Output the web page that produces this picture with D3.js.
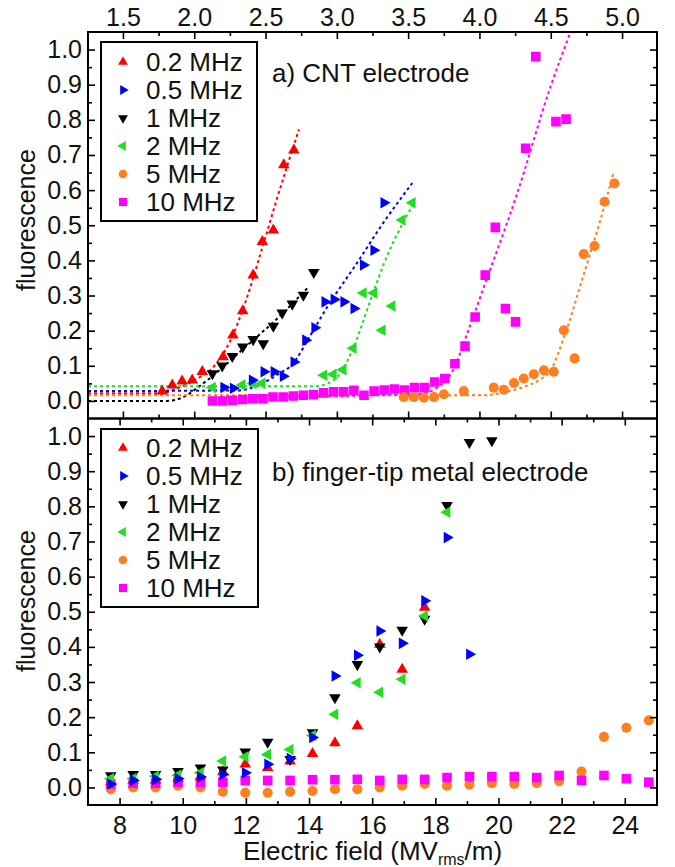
<!DOCTYPE html>
<html>
<head>
<meta charset="utf-8">
<script src="https://cdn.jsdelivr.net/npm/d3@7"></script>
<style>
  body { margin: 0; background: #fff; }
  svg { display: block; font-family: "Liberation Sans", Arial, sans-serif; }
</style>
</head>
<body>
<div id="chart"></div>
<script>
// ---------- data ----------
const freqLabels = ["0.2 MHz", "0.5 MHz", "1 MHz", "2 MHz", "5 MHz", "10 MHz"];

// panel a) CNT electrode : measured points
const a02E = [9.35, 9.67, 9.98, 10.30, 10.62, 11.28, 11.59, 11.90, 12.23, 12.52, 12.87, 13.20, 13.52];
const a02F = [0.028, 0.045, 0.056, 0.059, 0.083, 0.125, 0.187, 0.256, 0.358, 0.453, 0.486, 0.672, 0.714];
const a05E = [11.30, 11.60, 12.20, 12.57, 12.89, 13.18, 13.52, 13.89, 14.18, 14.50, 14.79, 15.10, 15.42, 15.72, 16.05, 16.37];
const a05F = [0.038, 0.036, 0.059, 0.083, 0.083, 0.070, 0.111, 0.173, 0.208, 0.282, 0.289, 0.282, 0.263, 0.387, 0.429, 0.564];
const a1E = [10.94, 11.25, 11.57, 11.90, 12.23, 12.55, 12.87, 13.15, 13.47, 13.82, 14.15];
const a1F = [0.078, 0.100, 0.127, 0.154, 0.175, 0.163, 0.213, 0.251, 0.276, 0.301, 0.366];
const a2E = [10.94, 11.88, 12.23, 12.52, 14.47, 14.77, 15.08, 15.40, 15.72, 16.05, 16.32, 16.63, 16.95, 17.27];
const a2F = [0.038, 0.045, 0.050, 0.050, 0.073, 0.076, 0.089, 0.150, 0.307, 0.307, 0.201, 0.270, 0.515, 0.564];
const a5E = [17.00, 17.32, 17.64, 17.96, 18.27, 18.90, 19.85, 20.17, 20.49, 20.80, 21.12, 21.44, 21.75, 22.07, 22.41, 22.70, 23.04, 23.36, 23.67];
const a5F = [0.011, 0.011, 0.009, 0.011, 0.019, 0.028, 0.038, 0.032, 0.051, 0.064, 0.076, 0.087, 0.083, 0.201, 0.121, 0.418, 0.441, 0.567, 0.619];
const a10E = [10.94, 11.26, 11.58, 11.90, 12.22, 12.54, 12.86, 13.18, 13.50, 13.82, 14.14, 14.46, 14.78, 15.10, 15.42, 15.74,
              16.06, 16.38, 16.70, 17.02, 17.34, 17.66, 17.98, 18.30, 18.62, 18.94, 19.26, 19.58, 19.90, 20.22, 20.54, 20.86,
              21.18, 21.82, 22.14];
const a10F = [0.000, 0.000, 0.002, 0.004, 0.006, 0.006, 0.011, 0.011, 0.014, 0.016, 0.018, 0.023, 0.026, 0.026, 0.030, 0.016,
              0.028, 0.031, 0.034, 0.031, 0.038, 0.038, 0.054, 0.064, 0.106, 0.156, 0.239, 0.358, 0.494, 0.263, 0.225, 0.719,
              0.980, 0.795, 0.802];

// panel a) fitted curves (dotted)
const fit02E = [7.0, 9.3, 9.8, 10.4, 11.0, 11.5, 12.0, 12.5, 13.0, 13.68];
const fit02F = [0.022, 0.022, 0.035, 0.060, 0.100, 0.170, 0.285, 0.430, 0.580, 0.773];
const fit05E = [7.0, 11.8, 12.4, 13.0, 13.5, 14.0, 14.58, 15.5, 16.3, 17.27];
const fit05F = [0.028, 0.030, 0.045, 0.075, 0.107, 0.180, 0.268, 0.390, 0.500, 0.620];
const fit1E = [7.0, 9.5, 10.0, 10.5, 11.0, 12.0, 13.0, 13.99];
const fit1F = [0.000, 0.000, 0.010, 0.040, 0.075, 0.155, 0.235, 0.325];
const fit2E = [7.0, 14.2, 14.6, 15.0, 15.37, 16.0, 16.37, 17.27];
const fit2F = [0.042, 0.042, 0.050, 0.080, 0.144, 0.300, 0.390, 0.555];
const fit5E = [7.0, 19.5, 20.2, 20.8, 21.3, 21.65, 22.07, 22.7, 23.34, 23.65];
const fit5F = [0.016, 0.016, 0.025, 0.040, 0.060, 0.087, 0.180, 0.360, 0.550, 0.652];
const fit10E = [11.0, 17.5, 18.0, 18.59, 19.0, 19.54, 20.59, 21.65, 22.28];
const fit10F = [0.010, 0.020, 0.035, 0.092, 0.190, 0.325, 0.590, 0.895, 1.050];

// panel b) finger-tip metal electrode : common field steps
const bE = [7.72, 8.43, 9.14, 9.85, 10.56, 11.27, 11.98, 12.69, 13.40, 14.11, 14.82, 15.53, 16.24,
            16.95, 17.66, 18.37, 19.08, 19.79, 20.50, 21.21, 21.92, 22.63, 23.34, 24.05, 24.76];
const b02F = [0.015, 0.020, 0.020, 0.025, 0.030, 0.044, 0.066, 0.056, 0.075, 0.096, 0.127, 0.175, 0.407, 0.336, 0.512];
const b05F = [0.010, 0.020, 0.023, 0.025, 0.030, 0.037, 0.042, 0.066, 0.082, 0.142, 0.317, 0.376, 0.445, 0.410, 0.531, 0.711, 0.379];
const b1F = [0.034, 0.037, 0.037, 0.046, 0.056, 0.050, 0.101, 0.129, 0.080, 0.156, 0.256, 0.350, 0.400, 0.448, 0.479, 0.803, 0.982, 0.987];
const b2F = [0.025, 0.025, 0.032, 0.035, 0.042, 0.075, 0.087, 0.094, 0.108, 0.148, 0.208, 0.298, 0.271, 0.308, 0.488, 0.783];
const b5F = [-0.005, 0.000, 0.000, 0.005, 0.000, -0.012, -0.015, -0.015, -0.012, -0.010, -0.005, -0.005, 0.000,
             0.005, 0.010, 0.005, 0.008, 0.012, 0.010, 0.012, 0.018, 0.045, 0.144, 0.170, 0.191];
const b10F = [0.010, 0.012, 0.012, 0.015, 0.015, 0.015, 0.020, 0.020, 0.020, 0.022, 0.022, 0.023, 0.020,
              0.023, 0.023, 0.028, 0.031, 0.031, 0.031, 0.028, 0.034, 0.020, 0.034, 0.025, 0.015];

// axis ticks
const bottomTicks = [8, 10, 12, 14, 16, 18, 20, 22, 24];
const bottomMinor = [9, 11, 13, 15, 17, 19, 21, 23];
const topTicks = [1.5, 2.0, 2.5, 3.0, 3.5, 4.0, 4.5, 5.0];
const topMinor = [1.75, 2.25, 2.75, 3.25, 3.75, 4.25, 4.75];
const yTicks = [0, 0.1, 0.2, 0.3, 0.4, 0.5, 0.6, 0.7, 0.8, 0.9, 1.0];
const yMinor = [0.05, 0.15, 0.25, 0.35, 0.45, 0.55, 0.65, 0.75, 0.85, 0.95];

// ---------- style ----------
const colors = ["#ff0000", "#0000ff", "#000000", "#22dd22", "#ff7f1e", "#ff00ff"];
const shapes = [
  { type: d3.symbolTriangle, rot: 0, size: 58 },
  { type: d3.symbolTriangle, rot: 90, size: 58 },
  { type: d3.symbolTriangle, rot: 180, size: 58 },
  { type: d3.symbolTriangle, rot: -90, size: 58 },
  { type: d3.symbolCircle, rot: 0, size: 80 },
  { type: d3.symbolSquare, rot: 0, size: 92 }
];

const W = 675, H = 867;
const left = 88, right = 657, topA = 32, midY = 418.5, botB = 805;

const svg = d3.select("#chart").append("svg").attr("width", W).attr("height", H);
svg.append("rect").attr("width", W).attr("height", H).attr("fill", "#fff");

const x = d3.scaleLinear().domain([7.0, 25.02]).range([left, right]);
const xTop = d3.scaleLinear().domain([1.255, 5.245]).range([left, right]);
const yA = d3.scaleLinear().domain([-0.05, 1.05]).range([midY, topA]);
const yB = d3.scaleLinear().domain([-0.05, 1.05]).range([botB, midY]);

const defs = svg.append("defs");
defs.append("clipPath").attr("id", "clipA").append("rect")
  .attr("x", left).attr("y", topA).attr("width", right - left).attr("height", midY - topA);
defs.append("clipPath").attr("id", "clipB").append("rect")
  .attr("x", left).attr("y", midY).attr("width", right - left).attr("height", botB - midY);

function symPath(i) {
  return d3.symbol().type(shapes[i].type).size(shapes[i].size)();
}

function drawPoints(g, ys, i, Es, Fs) {
  g.append("g").selectAll("path")
    .data(Fs.map((f, k) => [Es[k], f]))
    .join("path")
    .attr("d", symPath(i))
    .attr("fill", colors[i])
    .attr("transform", d => `translate(${x(d[0])},${ys(d[1])}) rotate(${shapes[i].rot})`);
}

function drawFit(g, ys, i, Es, Fs) {
  const line = d3.line().x(d => x(d[0])).y(d => ys(d[1])).curve(d3.curveMonotoneX);
  g.append("path")
    .attr("d", line(Fs.map((f, k) => [Es[k], f])))
    .attr("fill", "none")
    .attr("stroke", colors[i])
    .attr("stroke-width", 2)
    .attr("stroke-dasharray", "3,3");
}

// ---------- panel a ----------
const gA = svg.append("g").attr("clip-path", "url(#clipA)");
drawFit(gA, yA, 2, fit1E, fit1F);
drawFit(gA, yA, 4, fit5E, fit5F);
drawFit(gA, yA, 0, fit02E, fit02F);
drawFit(gA, yA, 1, fit05E, fit05F);
drawFit(gA, yA, 3, fit2E, fit2F);
drawFit(gA, yA, 5, fit10E, fit10F);
drawPoints(gA, yA, 5, a10E, a10F);
drawPoints(gA, yA, 4, a5E, a5F);
drawPoints(gA, yA, 3, a2E, a2F);
drawPoints(gA, yA, 1, a05E, a05F);
drawPoints(gA, yA, 2, a1E, a1F);
drawPoints(gA, yA, 0, a02E, a02F);

// ---------- panel b ----------
const gB = svg.append("g").attr("clip-path", "url(#clipB)");
drawPoints(gB, yB, 4, bE, b5F);
drawPoints(gB, yB, 5, bE, b10F);
drawPoints(gB, yB, 0, bE, b02F);
drawPoints(gB, yB, 2, bE, b1F);
drawPoints(gB, yB, 3, bE, b2F);
drawPoints(gB, yB, 1, bE, b05F);

// ---------- axes ----------
function styleAxis(g, size) {
  g.select(".domain").remove();
  g.attr("font-family", null).attr("font-size", size || 25);
  g.selectAll("line").attr("stroke", "#000").attr("stroke-width", 1.6);
  g.selectAll("text").attr("fill", "#111");
}

function yAxes(ys) {
  svg.append("g").attr("transform", `translate(${left},0)`)
    .call(d3.axisLeft(ys).tickValues(yTicks).tickSize(-7).tickPadding(6).tickFormat(d3.format(".1f")))
    .call(styleAxis);
  svg.append("g").attr("transform", `translate(${left},0)`)
    .call(d3.axisLeft(ys).tickValues(yMinor).tickSize(-4).tickFormat(""))
    .call(styleAxis);
  svg.append("g").attr("transform", `translate(${right},0)`)
    .call(d3.axisRight(ys).tickValues(yTicks).tickSize(-7).tickFormat(""))
    .call(styleAxis);
  svg.append("g").attr("transform", `translate(${right},0)`)
    .call(d3.axisRight(ys).tickValues(yMinor).tickSize(-4).tickFormat(""))
    .call(styleAxis);
}
yAxes(yA);
yAxes(yB);

// top axis (panel a)
svg.append("g").attr("transform", `translate(0,${topA})`)
  .call(d3.axisTop(xTop).tickValues(topTicks).tickSize(-7).tickPadding(6).tickFormat(d3.format(".1f")))
  .call(styleAxis);
svg.append("g").attr("transform", `translate(0,${topA})`)
  .call(d3.axisTop(xTop).tickValues(topMinor).tickSize(-4).tickFormat(""))
  .call(styleAxis);
// bottom edge of panel a
svg.append("g").attr("transform", `translate(0,${midY})`)
  .call(d3.axisBottom(xTop).tickValues(topTicks).tickSize(-7).tickFormat(""))
  .call(styleAxis);
svg.append("g").attr("transform", `translate(0,${midY})`)
  .call(d3.axisBottom(xTop).tickValues(topMinor).tickSize(-4).tickFormat(""))
  .call(styleAxis);
// top edge of panel b
svg.append("g").attr("transform", `translate(0,${midY})`)
  .call(d3.axisTop(x).tickValues(bottomTicks).tickSize(-7).tickFormat(""))
  .call(styleAxis);
svg.append("g").attr("transform", `translate(0,${midY})`)
  .call(d3.axisTop(x).tickValues(bottomMinor).tickSize(-4).tickFormat(""))
  .call(styleAxis);
// bottom axis (panel b)
svg.append("g").attr("transform", `translate(0,${botB})`)
  .call(d3.axisBottom(x).tickValues(bottomTicks).tickSize(-7).tickPadding(11))
  .call(styleAxis);
svg.append("g").attr("transform", `translate(0,${botB})`)
  .call(d3.axisBottom(x).tickValues(bottomMinor).tickSize(-4).tickFormat(""))
  .call(styleAxis);

// frames
svg.append("rect").attr("x", left).attr("y", topA).attr("width", right - left).attr("height", midY - topA)
  .attr("fill", "none").attr("stroke", "#000").attr("stroke-width", 2);
svg.append("rect").attr("x", left).attr("y", midY).attr("width", right - left).attr("height", botB - midY)
  .attr("fill", "none").attr("stroke", "#000").attr("stroke-width", 2);

// ---------- labels ----------
[[220], [601]].forEach(([cy]) => {
  svg.append("text")
    .attr("transform", `translate(35,${cy}) rotate(-90)`)
    .attr("text-anchor", "middle").attr("font-size", 25).attr("fill", "#111")
    .text("fluorescence");
});

const xt = svg.append("text")
  .attr("x", (left + right) / 2).attr("y", 860)
  .attr("text-anchor", "middle").attr("font-size", 26).attr("fill", "#111");
xt.append("tspan").text("Electric field (MV");
xt.append("tspan").attr("font-size", 16).attr("dy", 5).text("rms");
xt.append("tspan").attr("dy", -5).text("/m)");

svg.append("text").attr("x", 272).attr("y", 82).attr("font-size", 26).attr("fill", "#111")
  .text("a) CNT electrode");
svg.append("text").attr("x", 272).attr("y", 481).attr("font-size", 26).attr("fill", "#111")
  .text("b) finger-tip metal electrode");

// ---------- legends ----------
function legend(x0, y0, w, h, firstRow) {
  const g = svg.append("g");
  g.append("rect").attr("x", x0).attr("y", y0).attr("width", w).attr("height", h)
    .attr("fill", "#fff").attr("stroke", "#000").attr("stroke-width", 2);
  freqLabels.forEach((lab, i) => {
    const cy = y0 + firstRow + i * 28;
    g.append("path").attr("d", symPath(i)).attr("fill", colors[i])
      .attr("transform", `translate(${x0 + 22},${cy}) rotate(${shapes[i].rot}) scale(0.85)`);
    g.append("text").attr("x", x0 + 45).attr("y", cy + 9)
      .attr("font-size", 26).attr("fill", "#111").text(lab);
  });
}
legend(101, 42, 156, 179, 20);
legend(101, 429, 157, 178, 19);
</script>
</body>
</html>
